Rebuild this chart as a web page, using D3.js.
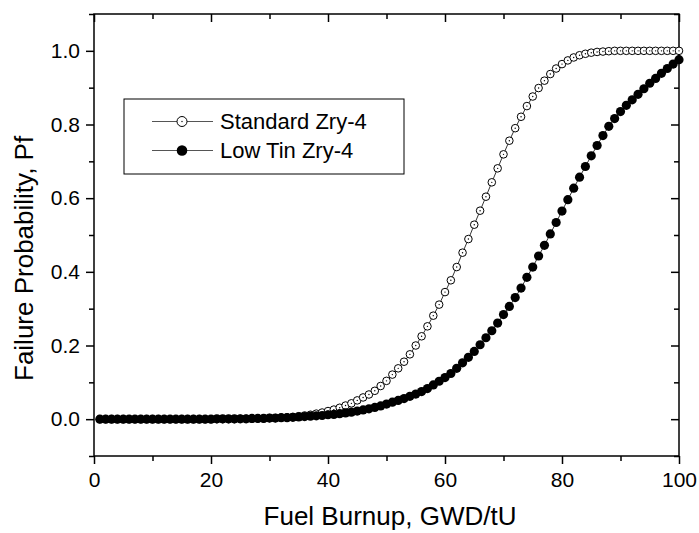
<!DOCTYPE html>
<html>
<head>
<meta charset="utf-8">
<script src="https://cdn.jsdelivr.net/npm/d3@7"></script>
<style>
  html, body { margin: 0; padding: 0; background: #fff; }
  svg { display: block; font-family: "Liberation Sans", Arial, sans-serif; }
</style>
</head>
<body>
<svg id="chart" width="699" height="533"></svg>
<script>
// ---- data ----
const burnup = d3.range(1, 101); // 1..100 GWD/tU, step 1
const standardZry4 = [
  0.000,0.000,0.000,0.000,0.000,0.000,0.000,0.000,0.000,0.000,
  0.000,0.000,0.000,0.000,0.000,0.000,0.000,0.000,0.000,0.000,
  0.000,0.000,0.000,0.000,0.001,0.001,0.001,0.002,0.002,0.003,
  0.003,0.004,0.005,0.006,0.008,0.010,0.012,0.015,0.018,0.022,
  0.026,0.031,0.037,0.043,0.051,0.059,0.067,0.077,0.090,0.104,
  0.121,0.138,0.156,0.176,0.200,0.225,0.252,0.281,0.311,0.345,
  0.377,0.413,0.452,0.489,0.528,0.566,0.604,0.643,0.681,0.719,
  0.756,0.790,0.821,0.850,0.876,0.899,0.919,0.937,0.952,0.964,
  0.974,0.982,0.988,0.992,0.995,0.997,0.998,0.999,1.000,1.000,
  1.000,1.000,1.000,1.000,1.000,1.000,1.000,1.000,1.000,1.000
];
const lowTinZry4 = [
  0.000,0.000,0.000,0.000,0.000,0.000,0.000,0.000,0.000,0.000,
  0.000,0.000,0.000,0.000,0.000,0.000,0.000,0.000,0.000,0.000,
  0.001,0.001,0.001,0.001,0.001,0.001,0.002,0.002,0.002,0.003,
  0.003,0.004,0.004,0.005,0.006,0.007,0.008,0.009,0.010,0.012,
  0.013,0.015,0.017,0.019,0.022,0.025,0.028,0.032,0.036,0.041,
  0.046,0.051,0.056,0.062,0.068,0.075,0.083,0.093,0.103,0.113,
  0.124,0.138,0.153,0.168,0.184,0.202,0.221,0.240,0.261,0.284,
  0.306,0.330,0.356,0.385,0.413,0.443,0.472,0.503,0.534,0.565,
  0.596,0.627,0.657,0.686,0.715,0.743,0.770,0.795,0.816,0.835,
  0.852,0.867,0.882,0.897,0.912,0.925,0.939,0.952,0.964,0.976
];
const seriesNames = ["Standard Zry-4", "Low Tin Zry-4"];
const xMajorTicks = [0, 20, 40, 60, 80, 100];
const xMinorTicks = [10, 30, 50, 70, 90];
const yMajorTicks = [0.0, 0.2, 0.4, 0.6, 0.8, 1.0];
const yMinorTicks = [-0.1, 0.1, 0.3, 0.5, 0.7, 0.9, 1.1];
const xTitle = "Fuel Burnup, GWD/tU";
const yTitle = "Failure Probability, Pf";

// ---- layout ----
const L = 94, R = 679, T = 14, B = 456;
const svg = d3.select("#chart");
const x = d3.scaleLinear().domain([0, 100]).range([L, R]);
const y = d3.scaleLinear().domain([-0.1, 1.1]).range([B, T]);

const tickFont = 21;
function styleAxis(g) {
  g.select(".domain").remove();
  g.selectAll(".tick line").attr("stroke", "#000").attr("stroke-width", 1.5);
  g.selectAll(".tick text").attr("fill", "#000").style("font-size", tickFont + "px")
    .style("font-family", '"Liberation Sans", Arial, sans-serif');
}

// bottom axis (outward)
svg.append("g").attr("transform", `translate(0,${B})`)
  .call(d3.axisBottom(x).tickValues(xMajorTicks).tickSize(8).tickPadding(8).tickFormat(d3.format("d")))
  .call(styleAxis);
svg.append("g").attr("transform", `translate(0,${B})`)
  .call(d3.axisBottom(x).tickValues(xMinorTicks).tickSize(5).tickFormat(""))
  .call(styleAxis);
// top axis (inward)
svg.append("g").attr("transform", `translate(0,${T})`)
  .call(d3.axisBottom(x).tickValues(xMajorTicks).tickSize(8).tickFormat(""))
  .call(styleAxis);
svg.append("g").attr("transform", `translate(0,${T})`)
  .call(d3.axisBottom(x).tickValues(xMinorTicks).tickSize(5).tickFormat(""))
  .call(styleAxis);
// left axis (outward)
svg.append("g").attr("transform", `translate(${L},0)`)
  .call(d3.axisLeft(y).tickValues(yMajorTicks).tickSize(8).tickPadding(6).tickFormat(d3.format(".1f")))
  .call(styleAxis);
svg.append("g").attr("transform", `translate(${L},0)`)
  .call(d3.axisLeft(y).tickValues(yMinorTicks).tickSize(5).tickFormat(""))
  .call(styleAxis);
// right axis (inward)
svg.append("g").attr("transform", `translate(${R},0)`)
  .call(d3.axisLeft(y).tickValues(yMajorTicks).tickSize(8).tickFormat(""))
  .call(styleAxis);
svg.append("g").attr("transform", `translate(${R},0)`)
  .call(d3.axisLeft(y).tickValues(yMinorTicks).tickSize(5).tickFormat(""))
  .call(styleAxis);

// frame
svg.append("rect").attr("x", L).attr("y", T).attr("width", R - L).attr("height", B - T)
  .attr("fill", "none").attr("stroke", "#000").attr("stroke-width", 1.5);

// titles
svg.append("text").attr("x", 390).attr("y", 525).attr("text-anchor", "middle")
  .style("font-size", "26px").attr("fill", "#000").text(xTitle);
svg.append("text").attr("transform", `translate(33,381) rotate(-90)`)
  .attr("text-anchor", "start").style("font-size", "26px").attr("fill", "#000").text(yTitle);

// series
const stdData = burnup.map((b, i) => ({ x: b, y: standardZry4[i] }));
const lowData = burnup.map((b, i) => ({ x: b, y: lowTinZry4[i] }));
const line = d3.line().x(d => x(d.x)).y(d => y(d.y));

svg.append("path").datum(stdData).attr("d", line).attr("fill", "none").attr("stroke", "#000").attr("stroke-width", 0.8);
const sg = svg.append("g");
sg.selectAll("circle.o").data(stdData).join("circle").attr("class", "o")
  .attr("cx", d => x(d.x)).attr("cy", d => y(d.y)).attr("r", 3.8)
  .attr("fill", "#fff").attr("stroke", "#000").attr("stroke-width", 1);
sg.selectAll("circle.c").data(stdData).join("circle").attr("class", "c")
  .attr("cx", d => x(d.x)).attr("cy", d => y(d.y)).attr("r", 0.7).attr("fill", "#000");

svg.append("path").datum(lowData).attr("d", line).attr("fill", "none").attr("stroke", "#000").attr("stroke-width", 0.8);
svg.append("g").selectAll("circle").data(lowData).join("circle")
  .attr("cx", d => x(d.x)).attr("cy", d => y(d.y)).attr("r", 4.6).attr("fill", "#000");

// legend
const lg = svg.append("g");
lg.append("rect").attr("x", 124).attr("y", 99).attr("width", 280).attr("height", 75)
  .attr("fill", "#fff").attr("stroke", "#000").attr("stroke-width", 1);
const rows = [121.5, 150.5];
rows.forEach((ry, i) => {
  lg.append("line").attr("x1", 152).attr("x2", 213).attr("y1", ry).attr("y2", ry)
    .attr("stroke", "#555").attr("stroke-width", 1);
  if (i === 0) {
    lg.append("circle").attr("cx", 182).attr("cy", ry).attr("r", 5)
      .attr("fill", "#fff").attr("stroke", "#000").attr("stroke-width", 1);
    lg.append("circle").attr("cx", 182).attr("cy", ry).attr("r", 0.7).attr("fill", "#000");
  } else {
    lg.append("circle").attr("cx", 182).attr("cy", ry).attr("r", 5.3).attr("fill", "#000");
  }
  lg.append("text").attr("x", 220).attr("y", ry + 7.5).style("font-size", "22px")
    .attr("fill", "#000").text(seriesNames[i]);
});
</script>
</body>
</html>
